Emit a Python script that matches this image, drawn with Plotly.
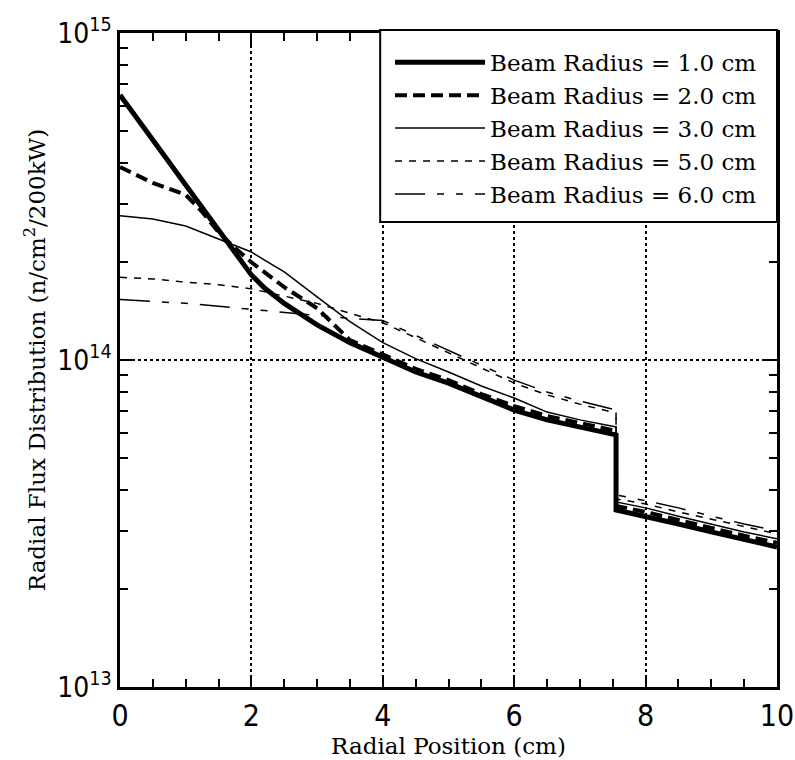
import plotly.graph_objects as go

# ---- data (radial position in cm, flux in n/cm^2/200kW) ----
x_r1 = [0, 0.5, 1.0, 1.5, 2.0, 2.2, 2.5, 3.0, 3.5, 4.0, 4.5, 5.0, 5.5, 6.0, 6.5, 7.0, 7.55, 7.55, 8.0, 8.5, 9.0, 9.5, 10.0]
flux_r1 = [6.46e14, 4.71e14, 3.43e14, 2.50e14, 1.82e14, 1.66e14, 1.49e14, 1.28e14, 1.13e14, 1.02e14,
           9.19e13, 8.50e13, 7.71e13, 7.03e13, 6.56e13, 6.24e13, 5.90e13, 3.48e13, 3.33e13, 3.15e13,
           2.98e13, 2.82e13, 2.68e13]

x_r2 = [0, 0.5, 1.0, 1.25, 1.5, 1.75, 2.0, 2.2, 2.5, 3.0, 3.5, 4.0, 4.5, 5.0, 5.5, 6.0, 6.5, 7.0, 7.55, 7.55,
        8.0, 8.5, 9.0, 9.5, 10.0]
flux_r2 = [3.89e14, 3.48e14, 3.20e14, 2.84e14, 2.46e14, 2.20e14, 1.99e14, 1.86e14, 1.67e14, 1.44e14, 1.15e14,
           1.04e14, 9.39e13, 8.68e13, 7.87e13, 7.23e13, 6.74e13, 6.42e13, 6.07e13, 3.58e13,
           3.43e13, 3.24e13, 3.06e13, 2.90e13, 2.76e13]

x_r3 = [0, 0.5, 1.0, 1.5, 2.0, 2.2, 2.5, 3.0, 3.5, 4.0, 4.5, 5.0, 5.5, 6.0, 6.5, 7.0, 7.55, 7.55,
        8.0, 8.5, 9.0, 9.5, 10.0]
flux_r3 = [2.76e14, 2.70e14, 2.57e14, 2.34e14, 2.14e14, 2.02e14, 1.86e14, 1.56e14, 1.31e14, 1.13e14,
           1.01e14, 9.19e13, 8.33e13, 7.65e13, 6.93e13, 6.56e13, 6.24e13, 3.68e13,
           3.53e13, 3.33e13, 3.15e13, 2.98e13, 2.84e13]

x_r5 = [0, 0.5, 1.0, 1.5, 2.0, 2.5, 3.0, 3.5, 4.0, 4.5, 5.0, 5.5, 6.0, 6.5, 7.0, 7.55, 7.55,
        8.0, 8.5, 9.0, 9.5, 10.0]
flux_r5 = [1.79e14, 1.77e14, 1.73e14, 1.70e14, 1.65e14, 1.57e14, 1.49e14, 1.39e14, 1.30e14, 1.17e14,
           1.05e14, 9.46e13, 8.50e13, 7.82e13, 7.33e13, 6.88e13, 3.76e13,
           3.63e13, 3.43e13, 3.26e13, 3.09e13, 2.94e13]

x_r6 = [0, 0.5, 1.0, 1.5, 2.0, 2.5, 3.0, 3.5, 4.0, 4.5, 5.0, 5.5, 6.0, 6.5, 7.0, 7.55, 7.55,
        8.0, 8.5, 9.0, 9.5, 10.0]
flux_r6 = [1.53e14, 1.51e14, 1.49e14, 1.46e14, 1.43e14, 1.40e14, 1.37e14, 1.34e14, 1.32e14, 1.19e14,
           1.07e14, 9.66e13, 8.68e13, 7.98e13, 7.49e13, 7.03e13, 3.87e13,
           3.71e13, 3.53e13, 3.33e13, 3.15e13, 3.00e13]

series_names = ["Beam Radius = 1.0 cm", "Beam Radius = 2.0 cm", "Beam Radius = 3.0 cm",
                "Beam Radius = 5.0 cm", "Beam Radius = 6.0 cm"]
x_ticks = [0, 2, 4, 6, 8, 10]
y_ticks = [1e13, 1e14, 1e15]
y_ticktext = ["10<sup>13</sup>", "10<sup>14</sup>", "10<sup>15</sup>"]

xs = [x_r1, x_r2, x_r3, x_r5, x_r6]
ys = [flux_r1, flux_r2, flux_r3, flux_r5, flux_r6]
styles = [
    dict(width=5, dash="solid"),
    dict(width=4, dash="12px,6px"),
    dict(width=1.5, dash="solid"),
    dict(width=1.5, dash="7px,7px"),
    dict(width=1.5, dash="30px,12px,7px,12px,7px,12px"),
]

fig = go.Figure()
for x, y, name, st in zip(xs, ys, series_names, styles):
    fig.add_trace(go.Scatter(x=x, y=y, mode="lines", name=name,
                             line=dict(color="black", width=st["width"], dash=st["dash"])))

serif = "DejaVu Serif, serif"
narrow = "Liberation Sans Narrow, DejaVu Sans Condensed, Arial Narrow, sans-serif"

# legend frame (white box with black border) drawn behind the legend entries
fig.add_shape(type="rect", xref="paper", yref="paper", x0=0.396, x1=1.0, y0=0.711, y1=1.0046,
              line=dict(color="black", width=2), fillcolor="white", layer="above")

fig.update_layout(
    width=795, height=760,
    margin=dict(l=120, r=18, t=33, b=73, autoexpand=False),
    paper_bgcolor="white", plot_bgcolor="white",
    font=dict(family=serif, size=23, color="black"),
    showlegend=True,
    legend=dict(x=0.411, xanchor="left", y=0.988, yanchor="top",
                bgcolor="rgba(0,0,0,0)", borderwidth=0,
                font=dict(family=serif, size=23, color="black"),
                itemwidth=90, tracegroupgap=0),
)

x_minor = [v / 2 for v in range(1, 20) if v % 4 != 0]
y_minor = [m * 1e13 for m in range(2, 10)] + [m * 1e14 for m in range(2, 10)]

fig.update_xaxes(
    range=[0, 10], tickvals=x_ticks, ticks="inside", ticklen=12, tickwidth=2, tickcolor="black",
    showline=True, linewidth=2.5, linecolor="black", mirror="ticks", automargin=False,
    showgrid=True, gridcolor="black", griddash="dot", gridwidth=1.5, zeroline=False,
    tickfont=dict(family=narrow, size=30, color="black"),
    title=dict(text="Radial Position (cm)", font=dict(family=serif, size=23), standoff=0),
    minor=dict(tickvals=x_minor, ticks="inside", ticklen=8, tickwidth=2, tickcolor="black", showgrid=False),
)
fig.update_yaxes(
    type="log", range=[13, 15], tickvals=y_ticks, ticktext=y_ticktext,
    ticks="inside", ticklen=12, tickwidth=2, tickcolor="black",
    showline=True, linewidth=2.5, linecolor="black", mirror="ticks", automargin=False,
    showgrid=True, gridcolor="black", griddash="dot", gridwidth=1.5, zeroline=False,
    tickfont=dict(family=narrow, size=28, color="black"),
    title=dict(text="Radial Flux Distribution (n/cm<sup>2</sup>/200kW)", font=dict(family=serif, size=23), standoff=6),
    minor=dict(tickvals=y_minor, ticks="inside", ticklen=8, tickwidth=2, tickcolor="black", showgrid=False),
)

fig.write_html("out.html")
